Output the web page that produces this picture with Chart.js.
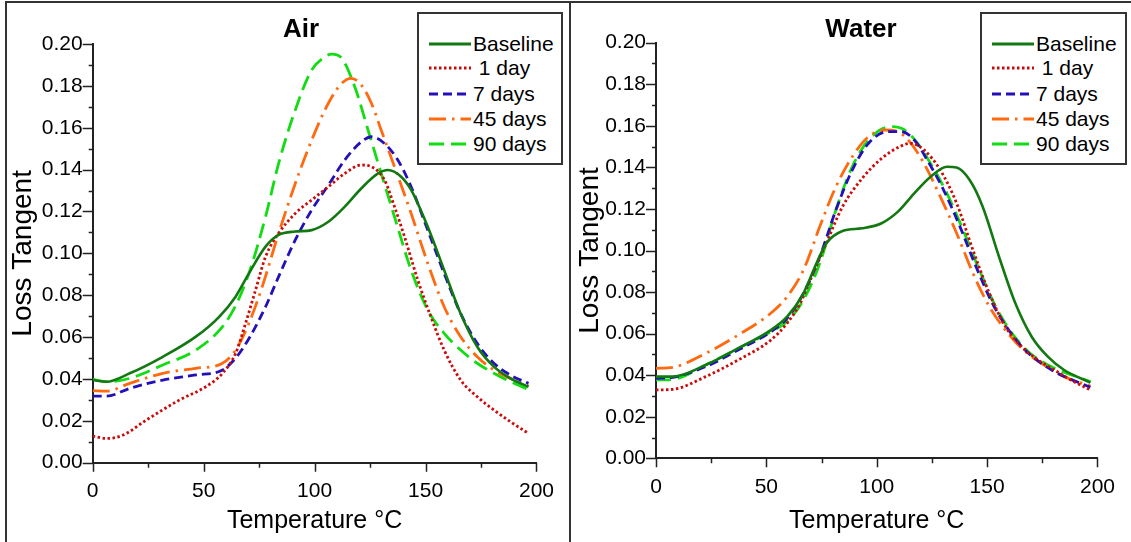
<!DOCTYPE html>
<html>
<head>
<meta charset="utf-8">
<script src="https://cdn.jsdelivr.net/npm/chart.js@4.4.1/dist/chart.umd.min.js"></script>
<style>
  html, body { margin: 0; padding: 0; background: #fff; }
  body { width: 1131px; height: 542px; position: relative; overflow: hidden; font-family: "Liberation Sans", Arial, sans-serif; }
  canvas { position: absolute; top: 0; }
  .rule { position: absolute; background: #333; }
  .title { position: absolute; font-weight: bold; font-size: 26px; color: #000; transform: translateX(-50%); white-space: nowrap; }
  .legend { position: absolute; border: 2px solid #333; background: #fff; box-sizing: border-box; }
  .legend .row { position: absolute; left: 10px; height: 25px; display: flex; align-items: center; font-size: 21px; color: #000; white-space: pre; }
  .legend svg { display: block; margin-right: 2px; }
</style>
</head>
<body>
<canvas id="airChart" width="570" height="542" style="left:0"></canvas>
<canvas id="waterChart" width="561" height="542" style="left:570px"></canvas>
<div class="rule" style="left:5px; top:1px; right:0; height:2px"></div>
<div class="rule" style="left:5px; top:1px; bottom:0; width:2px"></div>
<div class="rule" style="left:569px; top:1px; bottom:0; width:2px"></div>
<div class="title" style="left:301px; top:13px">Air</div>
<div class="title" style="left:861px; top:13px">Water</div>
<div class="legend" id="airLegend" style="left:417px; top:12px; width:146px; height:153px"></div>
<div class="legend" id="waterLegend" style="left:980px; top:12px; width:147px; height:153px"></div>
<script>
// ---------- Data ----------
const seriesLabels = ["Baseline", " 1 day", "7 days", "45 days", "90 days"];
const xTickValues = [0, 50, 100, 150, 200];
const yTickValues = [0.00, 0.02, 0.04, 0.06, 0.08, 0.10, 0.12, 0.14, 0.16, 0.18, 0.20];

// Air panel
const airBaseT = [0, 6.3, 16.7, 31.6, 46.5, 57, 64.4, 70.4, 77.9, 83.8, 91.3, 98.7, 106.2, 113.6, 121.1, 128.6, 133, 139, 143.5, 151, 158.4, 165.8, 173.3, 180.8, 188.2, 196.4];
const airBaseV = [0.0395, 0.0387, 0.0427, 0.0506, 0.0602, 0.0697, 0.0793, 0.0904, 0.1032, 0.1088, 0.1104, 0.1111, 0.1151, 0.1223, 0.1311, 0.1382, 0.1398, 0.1366, 0.1303, 0.1127, 0.0920, 0.0713, 0.0554, 0.0459, 0.0403, 0.0363];
const air1dT = [0, 6.3, 13.7, 24.2, 39, 51, 58.5, 64.4, 68.9, 73.4, 77.9, 83.8, 91.3, 98.7, 106.2, 113.6, 121.1, 125.6, 131.5, 136, 140.5, 146.5, 152.4, 158.4, 165.8, 173.3, 180.8, 188.2, 196.4];
const air1dV = [0.0127, 0.0116, 0.0132, 0.0204, 0.0299, 0.0363, 0.0427, 0.0522, 0.0666, 0.0825, 0.0984, 0.1096, 0.1191, 0.1255, 0.1318, 0.1382, 0.1422, 0.1414, 0.1350, 0.1223, 0.1080, 0.0873, 0.0697, 0.0538, 0.0395, 0.0315, 0.0252, 0.0196, 0.0140];
const air7dT = [0, 6.3, 16.7, 31.6, 46.5, 58.5, 64.9, 70.9, 77.9, 83.8, 91.3, 98.7, 106.2, 113.6, 121.1, 125.6, 131.5, 137.5, 143.5, 151, 158.4, 165.8, 173.3, 180.8, 188.2, 196.4];
const air7dV = [0.0318, 0.0318, 0.0355, 0.0395, 0.0419, 0.0443, 0.0506, 0.0602, 0.0745, 0.0889, 0.1064, 0.1207, 0.1326, 0.1446, 0.1533, 0.1557, 0.1525, 0.1446, 0.1318, 0.1111, 0.0904, 0.0713, 0.0570, 0.0475, 0.0419, 0.0379];
const air45dT = [0, 6.3, 16.7, 31.6, 46.5, 58.5, 64.4, 70.4, 76.4, 83.8, 91.3, 98.7, 106.2, 112.2, 116.6, 121.1, 125.6, 130, 136, 143.5, 151, 158.4, 165.8, 173.3, 180.8, 188.2, 196.4];
const air45dV = [0.0344, 0.0342, 0.0379, 0.0427, 0.0451, 0.0475, 0.0538, 0.0666, 0.0841, 0.1096, 0.1334, 0.1541, 0.1717, 0.1812, 0.1836, 0.1804, 0.1717, 0.1589, 0.1414, 0.1191, 0.0952, 0.0745, 0.0602, 0.0506, 0.0443, 0.0403, 0.0366];
const air90dT = [0, 6.3, 16.7, 31.6, 46.5, 58.5, 64.9, 70.9, 77.9, 83.8, 91.3, 98.7, 104.7, 107.7, 112.2, 118.1, 124.1, 130, 136, 143.5, 151, 158.4, 165.8, 173.3, 180.8, 188.2, 196.4];
const air90dV = [0.0398, 0.0387, 0.0403, 0.0467, 0.0538, 0.0650, 0.0761, 0.0920, 0.1175, 0.1430, 0.1685, 0.1876, 0.1939, 0.1952, 0.1932, 0.1796, 0.1589, 0.1382, 0.1175, 0.0920, 0.0729, 0.0618, 0.0538, 0.0475, 0.0427, 0.0387, 0.0350];

// Water panel
const watBaseT = [0, 7.7, 22.5, 37.2, 52, 59.4, 66.8, 72.7, 77.1, 84.5, 93.4, 102.2, 109.6, 117, 124.4, 131.8, 136.2, 142.1, 148, 155.4, 162.8, 170.2, 177.5, 184.9, 196.8];
const watBaseV = [0.0393, 0.0393, 0.0449, 0.0529, 0.0617, 0.0682, 0.0794, 0.0938, 0.1034, 0.1094, 0.1107, 0.1131, 0.1187, 0.1275, 0.1355, 0.1403, 0.1399, 0.1339, 0.1211, 0.0970, 0.0746, 0.0585, 0.0489, 0.0425, 0.0364];
const wat1dT = [0, 7.7, 22.5, 37.2, 52, 59.4, 65.3, 71.2, 77.1, 84.5, 93.4, 102.2, 111, 115.5, 121.4, 128.8, 136.2, 143.6, 151, 158.3, 165.7, 173.1, 180.5, 187.9, 196.8];
const wat1dV = [0.0329, 0.0332, 0.0393, 0.0473, 0.0569, 0.0650, 0.0746, 0.0890, 0.1034, 0.1211, 0.1347, 0.1443, 0.1503, 0.1516, 0.1484, 0.1387, 0.1227, 0.1002, 0.0794, 0.0634, 0.0537, 0.0473, 0.0425, 0.0377, 0.0329];
const wat7dT = [0, 7.7, 22.5, 37.2, 52, 59.4, 66.8, 74.2, 81.5, 88.9, 96.3, 105.2, 111, 117, 122.9, 130.3, 137.7, 145, 152.4, 159.8, 167.2, 174.6, 182, 196.8];
const wat7dV = [0.0385, 0.0390, 0.0441, 0.0521, 0.0609, 0.0674, 0.0794, 0.0970, 0.1195, 0.1387, 0.1516, 0.1572, 0.1572, 0.1532, 0.1435, 0.1291, 0.1115, 0.0922, 0.0746, 0.0617, 0.0521, 0.0457, 0.0409, 0.0342];
const wat45dT = [0, 7.7, 22.5, 37.2, 52, 59.4, 66.8, 74.2, 81.5, 88.9, 96.3, 103.7, 109.6, 115.5, 121.4, 128.8, 136.2, 143.6, 151, 158.3, 165.7, 174.6, 184.9, 196.8];
const wat45dV = [0.0433, 0.0438, 0.0505, 0.0593, 0.0698, 0.0778, 0.0906, 0.1115, 0.1307, 0.1451, 0.1548, 0.1580, 0.1572, 0.1516, 0.1419, 0.1259, 0.1083, 0.0890, 0.0730, 0.0617, 0.0529, 0.0457, 0.0393, 0.0348];
const wat90dT = [0, 7.7, 22.5, 37.2, 52, 59.4, 66.8, 74.2, 81.5, 88.9, 96.3, 106.6, 112.6, 118.5, 124.4, 131.8, 139.1, 146.5, 153.9, 161.3, 168.7, 177.5, 196.8];
const wat90dV = [0.0377, 0.0380, 0.0449, 0.0529, 0.0609, 0.0658, 0.0762, 0.0938, 0.1195, 0.1403, 0.1532, 0.1596, 0.1580, 0.1516, 0.1419, 0.1275, 0.1099, 0.0906, 0.0730, 0.0601, 0.0513, 0.0449, 0.0369];

// ---------- Styles ----------
const seriesStyles = [
  { color: "#127812", dash: [] },
  { color: "#cc0a0a", dash: [2.5, 2.5] },
  { color: "#2410b8", dash: [9, 5] },
  { color: "#ff6a10", dash: [17, 6, 2.5, 6] },
  { color: "#12dc12", dash: [15, 7] }
];
const FONT = "'Liberation Sans', Arial, sans-serif";

function pairs(xs, ys) { return xs.map((x, i) => ({ x: x, y: ys[i] })); }

function buildDatasets(list) {
  return list.map((s, i) => ({
    label: seriesLabels[i],
    data: pairs(s[0], s[1]),
    borderColor: seriesStyles[i].color,
    borderDash: seriesStyles[i].dash,
    borderWidth: i === 0 ? 2.6 : 2.8,
    borderCapStyle: "butt",
    pointRadius: 0,
    fill: false,
    cubicInterpolationMode: "monotone"
  }));
}

const tickPlugin = {
  id: "minorTicks",
  afterDraw(chart) {
    const ctx = chart.ctx;
    const xs = chart.scales.x, ys = chart.scales.y;
    const area = chart.chartArea;
    ctx.save();
    ctx.strokeStyle = "#222";
    ctx.lineWidth = 1.5;
    ctx.beginPath();
    for (let k = 0; k <= 20; k++) {
      const v = k * 0.01;
      const py = Math.round(ys.getPixelForValue(v)) + 0.5;
      const len = (k % 2 === 0) ? 10 : 4;
      ctx.moveTo(area.left - len, py);
      ctx.lineTo(area.left, py);
    }
    for (let k = 0; k <= 8; k++) {
      const v = k * 25;
      const px = Math.round(xs.getPixelForValue(v)) + 0.5;
      const len = (k % 2 === 0) ? 9 : 5;
      ctx.moveTo(px, area.bottom);
      ctx.lineTo(px, area.bottom + len);
    }
    ctx.stroke();
    ctx.restore();
  }
};

function makeChart(id, list, geom) {
  return new Chart(document.getElementById(id), {
    type: "line",
    data: { datasets: buildDatasets(list) },
    options: {
      responsive: false,
      animation: false,
      devicePixelRatio: 1,
      layout: { padding: { left: 0, right: geom.padRight, top: geom.padTop, bottom: 0 } },
      plugins: { legend: { display: false }, title: { display: false }, tooltip: { enabled: false } },
      scales: {
        x: {
          type: "linear", min: 0, max: 200,
          afterBuildTicks(scale) { scale.ticks = xTickValues.map(v => ({ value: v })); },
          afterFit(scale) { scale.height = geom.xHeight; },
          grid: { display: false, drawTicks: false },
          border: { display: true, color: "#222", width: 2 },
          ticks: { color: "#000", font: { family: FONT, size: 21 }, padding: 16, maxRotation: 0, autoSkip: false },
          title: { display: true, text: "Temperature °C", color: "#000", font: { family: FONT, size: 25 }, padding: { top: 0, bottom: geom.xTitlePad } }
        },
        y: {
          type: "linear", min: 0, max: 0.2,
          afterBuildTicks(scale) { scale.ticks = yTickValues.map(v => ({ value: v })); },
          afterFit(scale) { scale.width = geom.yWidth; },
          grid: { display: false, drawTicks: false },
          border: { display: true, color: "#222", width: 2 },
          ticks: { color: "#000", font: { family: FONT, size: 21 }, padding: 10, autoSkip: false, callback: v => Number(v).toFixed(2) },
          title: { display: true, text: "Loss Tangent", color: "#000", font: { family: FONT, size: 28 }, padding: { top: geom.yTitlePad, bottom: 0 } }
        }
      }
    },
    plugins: [tickPlugin]
  });
}

const airChart = makeChart("airChart", [
  [airBaseT, airBaseV], [air1dT, air1dV], [air7dT, air7dV], [air45dT, air45dV], [air90dT, air90dV]
], { padRight: 30, padTop: 44, xHeight: 79.3, yWidth: 92.7, xTitlePad: 6, yTitlePad: 6.5 });

const waterChart = makeChart("waterChart", [
  [watBaseT, watBaseV], [wat1dT, wat1dV], [wat7dT, wat7dV], [wat45dT, wat45dV], [wat90dT, wat90dV]
], { padRight: 23.7, padTop: 42.7, xHeight: 83.7, yWidth: 86, xTitlePad: 6, yTitlePad: 3.5 });

// ---------- Legends (HTML, built from the dataset styles) ----------
function buildLegend(elId, chart, rowTops) {
  const el = document.getElementById(elId);
  chart.data.datasets.forEach((ds, i) => {
    const row = document.createElement("div");
    row.className = "row";
    row.style.top = rowTops[i] + "px";
    const svgNS = "http://www.w3.org/2000/svg";
    const svg = document.createElementNS(svgNS, "svg");
    svg.setAttribute("width", "42");
    svg.setAttribute("height", "10");
    const ln = document.createElementNS(svgNS, "line");
    ln.setAttribute("x1", "0"); ln.setAttribute("y1", "5");
    ln.setAttribute("x2", "42"); ln.setAttribute("y2", "5");
    ln.setAttribute("stroke", ds.borderColor);
    ln.setAttribute("stroke-width", "2.8");
    if (ds.borderDash.length) ln.setAttribute("stroke-dasharray", ds.borderDash.join(" "));
    svg.appendChild(ln);
    row.appendChild(svg);
    const span = document.createElement("span");
    span.textContent = ds.label;
    row.appendChild(span);
    el.appendChild(row);
  });
}
buildLegend("airLegend", airChart, [17, 41, 67, 92, 117]);
buildLegend("waterLegend", waterChart, [17, 41, 67, 92, 117]);
</script>
</body>
</html>
